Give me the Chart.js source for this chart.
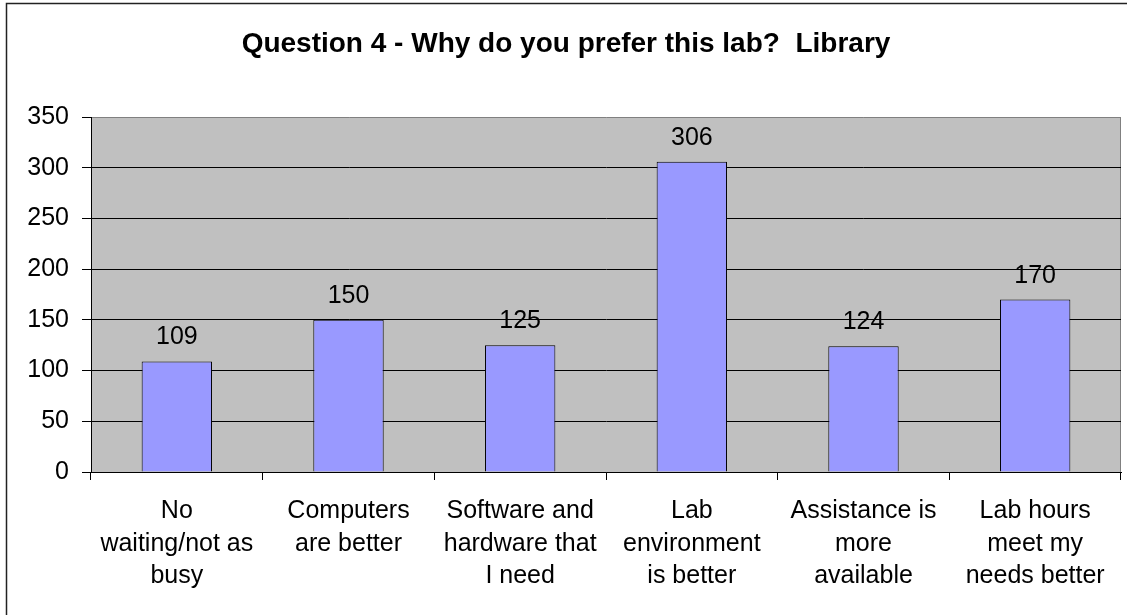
<!DOCTYPE html>
<html>
<head>
<meta charset="utf-8">
<script src="https://cdn.jsdelivr.net/npm/chart.js@4.4.1/dist/chart.umd.min.js"></script>
<style>
  html, body { margin: 0; padding: 0; background: #fff; }
  #wrap { width: 1127px; height: 615px; position: relative; }
</style>
</head>
<body>
<div id="wrap"><canvas id="chart" width="1127" height="615"></canvas></div>
<script>
// Question 4 - library lab preference counts

const TITLE = 'Question 4 - Why do you prefer this lab?  Library';
const categories = [
  ['No', 'waiting/not as', 'busy'],
  ['Computers', 'are better'],
  ['Software and', 'hardware that', 'I need'],
  ['Lab', 'environment', 'is better'],
  ['Assistance is', 'more', 'available'],
  ['Lab hours', 'meet my', 'needs better'],
];
const counts = [109, 150, 125, 306, 124, 170];
const yTicks = [0, 50, 100, 150, 200, 250, 300, 350];

const FONT = '"Liberation Sans", Arial, sans-serif';

// gray plot area, frame, title and value labels
const decor = {
  id: 'decor',
  beforeDraw(chart) {
    const { ctx, chartArea: a } = chart;
    ctx.save();
    ctx.fillStyle = '#c0c0c0';
    ctx.fillRect(a.left, a.top, a.right - a.left, a.bottom - a.top);
    ctx.strokeStyle = '#808080';
    ctx.lineWidth = 1;
    ctx.beginPath();
    ctx.moveTo(a.right - 0.5, a.top);
    ctx.lineTo(a.right - 0.5, a.bottom);
    ctx.stroke();
    // outer frame (right/bottom edges fall outside the picture)
    ctx.strokeStyle = '#222';
    ctx.lineWidth = 1.5;
    ctx.beginPath();
    ctx.moveTo(6.5, 615);
    ctx.lineTo(6.5, 3.5);
    ctx.lineTo(1127, 3.5);
    ctx.stroke();
    // title
    ctx.fillStyle = '#000';
    ctx.font = 'bold 28px ' + FONT;
    ctx.textBaseline = 'alphabetic';
    ctx.textAlign = 'center';
    ctx.fillText(TITLE, 566, 52);
    ctx.restore();
  },
  afterDatasetsDraw(chart) {
    const { ctx } = chart;
    const meta = chart.getDatasetMeta(0);
    ctx.save();
    ctx.fillStyle = '#000';
    ctx.font = '25px ' + FONT;
    ctx.textAlign = 'center';
    ctx.textBaseline = 'alphabetic';
    meta.data.forEach((bar, i) => {
      ctx.fillText(String(counts[i]), bar.x, bar.y - 17);
    });
    ctx.restore();
  },
};

new Chart(document.getElementById('chart'), {
  type: 'bar',
  data: {
    labels: categories,
    datasets: [{
      data: counts,
      backgroundColor: '#9999ff',
      borderColor: '#000',
      borderWidth: 1,
      barPercentage: 0.41,
      categoryPercentage: 1,
    }],
  },
  options: {
    responsive: false,
    animation: false,
    layout: { padding: { left: 0, top: 117, right: 6, bottom: 0 } },
    plugins: {
      legend: { display: false },
      tooltip: { enabled: false },
    },
    scales: {
      x: {
        afterFit(scale) { scale.height = 143; },
        border: { color: '#000', width: 1 },
        grid: {
          offset: true,
          drawOnChartArea: false,
          drawTicks: true,
          tickLength: 8,
          color: '#000',
        },
        ticks: {
          color: '#000',
          padding: 15,
          maxRotation: 0,
          autoSkip: false,
          font: { family: FONT, size: 25, lineHeight: 1.3 },
        },
      },
      y: {
        min: 0,
        max: 350,
        afterFit(scale) { scale.width = 91; },
        afterBuildTicks(scale) { scale.ticks = yTicks.map(v => ({ value: v })); },
        border: { color: '#000', width: 1 },
        grid: {
          color: ctx => (ctx.tick && ctx.tick.value === 350 ? '#808080' : '#000'),
          tickColor: '#000',
          tickLength: 9,
          lineWidth: 1,
        },
        ticks: {
          color: '#000',
          padding: 13,
          font: { family: FONT, size: 25 },
        },
      },
    },
  },
  plugins: [decor],
});
</script>
</body>
</html>
